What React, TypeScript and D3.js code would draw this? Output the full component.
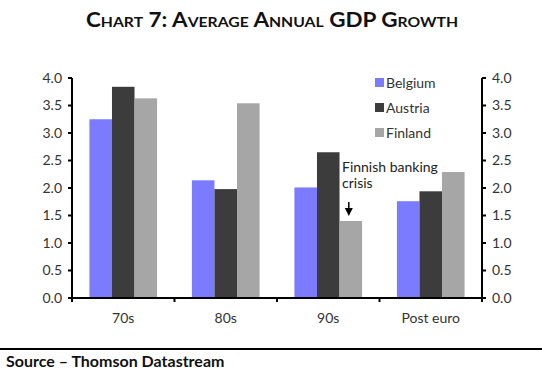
import React from "react";
import * as d3 from "d3";

const categories = ["70s", "80s", "90s", "Post euro"];
const seriesNames = ["Belgium", "Austria", "Finland"];
const belgium = [3.25, 2.14, 2.01, 1.76];
const austria = [3.84, 1.98, 2.65, 1.94];
const finland = [3.63, 3.54, 1.4, 2.29];
const seriesColors = ["#7b7bff", "#3c3c3c", "#a6a6a6"];
const yTicks = [0, 0.5, 1, 1.5, 2, 2.5, 3, 3.5, 4];

export default function App() {
  const W = 542, H = 375;
  const left = 72, right = 482, top = 78, bottom = 298;
  const x = d3.scaleBand<string>().domain(categories).range([left, right]).paddingInner(0.34).paddingOuter(0.17);
  const xs = d3.scaleBand<string>().domain(seriesNames).range([0, x.bandwidth()]);
  const y = d3.scaleLinear().domain([0, 4]).range([bottom, top]);
  const data = [belgium, austria, finland];
  const step = (right - left) / categories.length;
  const font = "Lato, sans-serif";
  const bx = (c: string) => x(c)!;
  const labelColor = "#333";
  const arrowX = bx("90s") + xs("Finland")! + xs.bandwidth() / 2 - 2;
  return (
    <svg width={W} height={H} style={{ position: "absolute", left: 0, top: 0, background: "#fff" }}>
      <text x={272} y={27} textAnchor="middle" fontFamily="Lato, sans-serif" fontWeight="bold" fontSize={20} textLength={372} lengthAdjust="spacingAndGlyphs" style={{ fontVariant: "small-caps" }} fill="#111">
        Chart 7: Average Annual GDP Growth
      </text>
      {data.map((vals, si) =>
        vals.map((v, ci) => (
          <rect key={`${si}-${ci}`} x={bx(categories[ci]) + xs(seriesNames[si])!} y={y(v)} width={xs.bandwidth()} height={y(0) - y(v)} fill={seriesColors[si]} />
        ))
      )}
      {/* axes */}
      <line x1={left} x2={left} y1={top} y2={bottom + 1} stroke="#000" strokeWidth={2} />
      <line x1={right} x2={right} y1={top} y2={bottom + 1} stroke="#000" strokeWidth={2} />
      <line x1={left - 4} x2={right + 4} y1={bottom} y2={bottom} stroke="#000" strokeWidth={2} />
      {yTicks.map((t) => (
        <g key={t}>
          <line x1={left - 4} x2={left} y1={y(t)} y2={y(t)} stroke="#000" strokeWidth={2} />
          <line x1={right} x2={right + 4} y1={y(t)} y2={y(t)} stroke="#000" strokeWidth={2} />
          <text x={left - 10} y={y(t)} dy="0.35em" textAnchor="end" fontFamily={font} fontSize={14} fill={labelColor}>{t.toFixed(1)}</text>
          <text x={right + 10} y={y(t)} dy="0.35em" textAnchor="start" fontFamily={font} fontSize={14} fill={labelColor}>{t.toFixed(1)}</text>
        </g>
      ))}
      {d3.range(categories.length + 1).map((i) => (
        <line key={i} x1={left + i * step} x2={left + i * step} y1={bottom} y2={bottom + 4} stroke="#000" strokeWidth={2} />
      ))}
      {categories.map((c) => (
        <text key={c} x={bx(c) + x.bandwidth() / 2} y={323} textAnchor="middle" fontFamily={font} fontSize={14} fill={labelColor}>{c}</text>
      ))}
      {/* legend */}
      {seriesNames.map((s, i) => (
        <g key={s}>
          <rect x={375} y={78 + i * 25} width={9} height={9} fill={seriesColors[i]} />
          <text x={386} y={83 + i * 25} dy="0.35em" fontFamily={font} fontSize={14} fill={labelColor}>{s}</text>
        </g>
      ))}
      {/* annotation */}
      <text x={342} y={172} fontFamily={font} fontSize={14} fill="#222">Finnish banking</text>
      <text x={342} y={188} fontFamily={font} fontSize={14} fill="#222">crisis</text>
      <line x1={arrowX} x2={arrowX} y1={202} y2={210} stroke="#000" strokeWidth={1.5} />
      <path d={`M${arrowX - 4},${208} L${arrowX + 4},${208} L${arrowX},${216} Z`} fill="#000" />
      {/* footer */}
      <line x1={0} x2={W} y1={349} y2={349} stroke="#000" strokeWidth={2} />
      <text x={6} y={367} fontFamily={font} fontWeight="bold" fontSize={16} fill="#111">Source – Thomson Datastream</text>
    </svg>
  );
}
